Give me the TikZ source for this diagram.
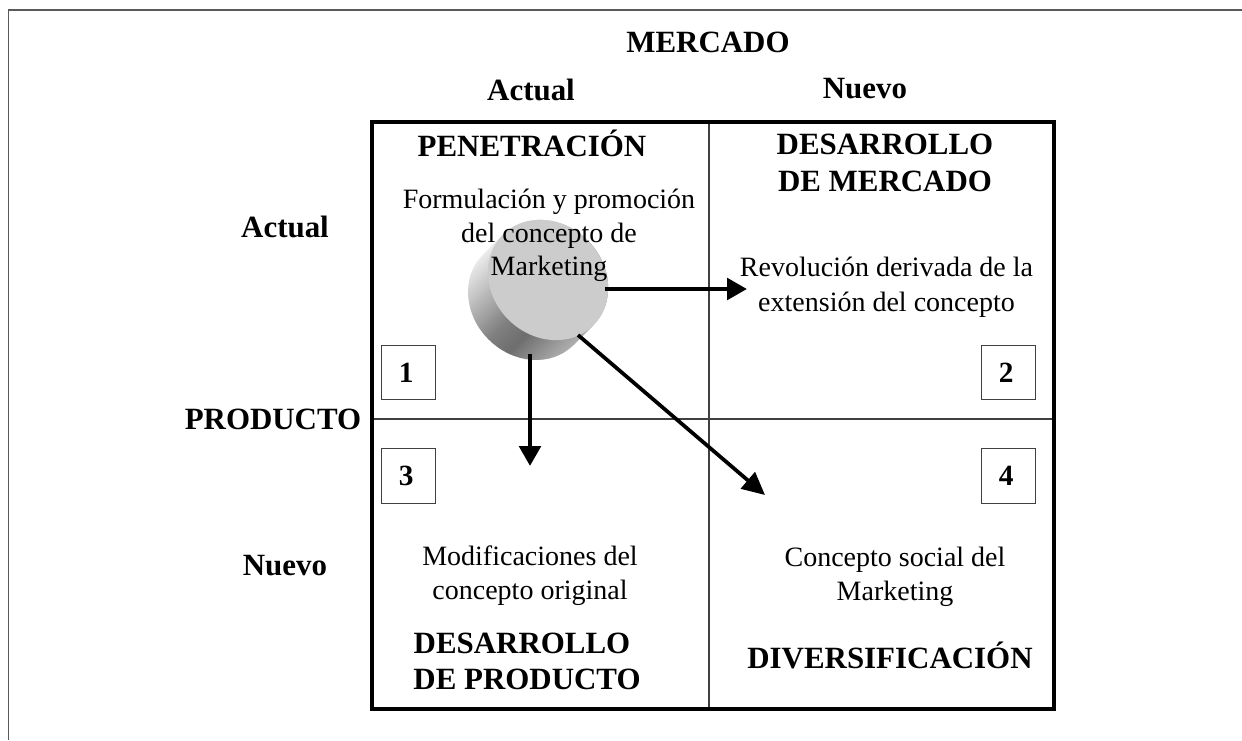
\documentclass[tikz,border=0pt]{standalone}
\usepackage{fontspec}
\setmainfont{Liberation Serif}
\usetikzlibrary{arrows.meta}
\newcommand{\digitbox}[1]{#1\kern3.5pt}
\tikzset{
  regular/.style={font=\fontsize{21}{25.5}\selectfont, align=center, anchor=base, inner sep=0pt},
  heading/.style={font=\fontsize{23.2}{27.5}\selectfont\bfseries, align=center, anchor=base, inner sep=0pt},
  grid line/.style={draw=black!75, line width=1.1pt},
  numbox/.style={draw=black!75, line width=0.9pt, minimum size=41pt, inner sep=0pt, font=\fontsize{22}{25}\selectfont\bfseries},
  flow/.style={line width=3.4pt, -{Triangle[length=15pt,width=16pt]}},
  flowthin/.style={line width=2.8pt, -{Triangle[length=17pt,width=16pt]}},
}
\begin{document}
\begin{tikzpicture}[x=0.75pt,y=-0.75pt]
\useasboundingbox (0,0) rectangle (1242,740);
\fill[white] (0,0) rectangle (1242,740);

% open outer frame
\draw[black!65, line width=1.2pt] (1242,10) -- (8.5,10) -- (8.5,740);

% quadrant grid
\draw[grid line] (709,122) -- (709,709);
\draw[grid line] (372,419) -- (1055,419);
\draw[black, line width=2.6pt] (372,122) rectangle (1054,709);

% quadrant number boxes
\node[numbox] (n1) at (408.5,372.5) {\digitbox{1}};
\node[numbox] (n2) at (1008.5,372.5) {\digitbox{2}};
\node[numbox] (n3) at (408.5,476) {\digitbox{3}};
\node[numbox] (n4) at (1008.5,476) {\digitbox{4}};

% the disk: side wall as narrow graded strips, then the flat face
\begin{scope}[shift={(548,280)}, y=0.75pt, rotate=-45]
  \begin{scope}
    \clip (-64,-28) arc[start angle=180, end angle=360, x radius=64, y radius=56]
      -- (64,0) arc[start angle=0, end angle=180, x radius=64, y radius=56] -- cycle;
    \foreach \u in {-64,-62,...,-2} {
      \pgfmathsetmacro{\shadeval}{8+(\u+64)*0.66}
      \fill[black!\shadeval] (\u,-120) rectangle (\u+2.6,80);
    }
    \foreach \u in {0,2,...,22} {
      \pgfmathsetmacro{\shadeval}{50+\u*0.3}
      \fill[black!\shadeval] (\u,-120) rectangle (\u+2.6,80);
    }
    \foreach \u in {24,26,...,66} {
      \pgfmathsetmacro{\shadeval}{56-(\u-24)*0.62}
      \fill[black!\shadeval] (\u,-120) rectangle (\u+2.6,80);
    }
  \end{scope}
  \fill[black!20] (0,0) ellipse[x radius=64, y radius=56];
\end{scope}

% connector ends
\coordinate (diskE) at (605,289);
\coordinate (diskS) at (530,354);
\coordinate (diskSE) at (578,335);
\coordinate (toMarket) at (747,289);
\coordinate (toProduct) at (530,466);
\coordinate (toDiverse) at (765,495);
\draw[flow] (diskE) -- (toMarket);
\draw[flow] (diskS) -- (toProduct);
\draw[flowthin] (diskSE) -- (toDiverse);

% axis titles
\node[heading] (mercado) at (708,52) {MERCADO};
\node[heading] (mactual) at (531,100) {Actual};
\node[heading] (mnuevo) at (865,98) {Nuevo};
\node[heading] (pactual) at (285,237) {Actual};
\node[heading] (producto) at (273,429) {PRODUCTO};
\node[heading] (pnuevo) at (285,575) {Nuevo};

% quadrant titles
\node[heading] (q1) at (532,156) {PENETRACIÓN};
\node[heading] (q2a) at (885,154) {DESARROLLO};
\node[heading] (q2b) at (885,191) {DE MERCADO};
\node[heading] (q3a) at (522,653) {DESARROLLO};
\node[heading] (q3b) at (527,689) {DE PRODUCTO};
\node[heading] (q4) at (890,668) {DIVERSIFICACIÓN};

% quadrant descriptions
\node[regular] (d1a) at (549,208) {Formulación y promoción};
\node[regular] (d1b) at (549,242) {del concepto de};
\node[regular] (d1c) at (549,275) {Marketing};
\node[regular] (d2a) at (886.5,276) {Revolución derivada de la};
\node[regular] (d2b) at (886.5,311) {extensión del concepto};
\node[regular] (d3a) at (530,565) {Modificaciones del};
\node[regular] (d3b) at (530,599) {concepto original};
\node[regular] (d4a) at (895,566) {Concepto social del};
\node[regular] (d4b) at (895,600) {Marketing};
\end{tikzpicture}
\end{document}
